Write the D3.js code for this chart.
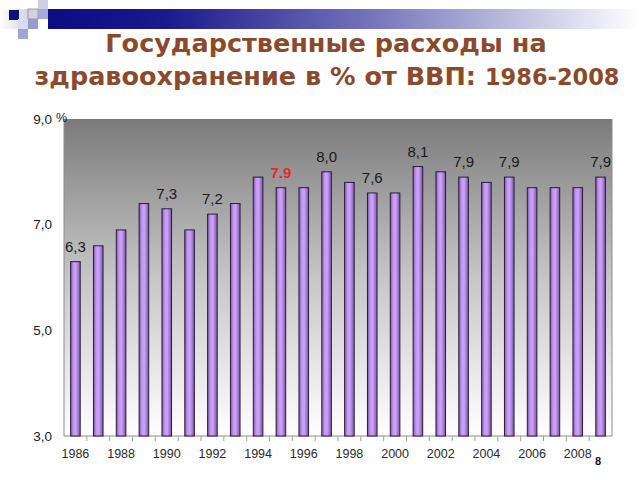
<!DOCTYPE html>
<html>
<head>
<meta charset="utf-8">
<script src="https://cdn.jsdelivr.net/npm/d3@7"></script>
<style>
  html, body { margin: 0; padding: 0; background: #fff; }
  svg { display: block; }
</style>
</head>
<body>
<svg id="chart" width="640" height="480"></svg>
<script>
// ---- DATA ----
const years = [1986,1987,1988,1989,1990,1991,1992,1993,1994,1995,1996,1997,
               1998,1999,2000,2001,2002,2003,2004,2005,2006,2007,2008,2009];
const values = [6.3,6.6,6.9,7.4,7.3,6.9,7.2,7.4,7.9,7.7,7.7,8.0,
                7.8,7.6,7.6,8.1,8.0,7.9,7.8,7.9,7.7,7.7,7.7,7.9];
const labelYears = [1986,1990,1992,1995,1997,1999,2001,2003,2005,2009];
const labelTexts = ["6,3","7,3","7,2","7.9","8,0","7,6","8,1","7,9","7,9","7,9"];
const highlightYears = [1995];
const xTickYears = [1986,1988,1990,1992,1994,1996,1998,2000,2002,2004,2006,2008];
const yTicks = [3,5,7,9];
const titleLine1 = "Государственные расходы на";
const titleLine2a = "здравоохранение в % от ВВП: ";
const titleLine2b = "1986-2008";
const unitLabel = "%";
const pageNumber = "8";

// ---- LAYOUT ----
const svg = d3.select("#chart");
const plot = {left: 64, right: 612, top: 119, bottom: 436};

const defs = svg.append("defs");
const bg = defs.append("linearGradient").attr("id","bg").attr("x1",0).attr("y1",0).attr("x2",0).attr("y2",1);
bg.append("stop").attr("offset","0%").attr("stop-color","#7b7b7b");
bg.append("stop").attr("offset","50%").attr("stop-color","#c6c6c6");
bg.append("stop").attr("offset","100%").attr("stop-color","#ffffff");

const barG = defs.append("linearGradient").attr("id","barg").attr("x1",0).attr("y1",0).attr("x2",1).attr("y2",0);
barG.append("stop").attr("offset","0%").attr("stop-color","#7e58a6");
barG.append("stop").attr("offset","30%").attr("stop-color","#c498f2");
barG.append("stop").attr("offset","55%").attr("stop-color","#cda2fb");
barG.append("stop").attr("offset","100%").attr("stop-color","#7a56a0");

const deco = defs.append("linearGradient").attr("id","deco").attr("x1",0).attr("y1",0).attr("x2",1).attr("y2",0);
deco.append("stop").attr("offset","0%").attr("stop-color","#0c0c84");
deco.append("stop").attr("offset","20%").attr("stop-color","#1a1a8c");
deco.append("stop").attr("offset","55%").attr("stop-color","#7676bc");
deco.append("stop").attr("offset","100%").attr("stop-color","#ffffff");
const decoL = defs.append("linearGradient").attr("id","decoL").attr("x1",0).attr("y1",0).attr("x2",1).attr("y2",0);
decoL.append("stop").attr("offset","0%").attr("stop-color","#ffffff");
decoL.append("stop").attr("offset","100%").attr("stop-color","#d4d4ec");

// decoration (slide template)
svg.append("rect").attr("x",48).attr("y",9).attr("width",592).attr("height",20).attr("fill","url(#deco)");
svg.append("rect").attr("x",0).attr("y",9).attr("width",28).attr("height",20).attr("fill","url(#decoL)");
const squares = [
  [9,10,"#0f0f80",null],[38,0,"#cfcfe8",null],[28,9,"#d4d4dc","#8a8a9a"],[38,9,"#a9a9d8",null],
  [18,19,"#dadaf0",null],[28,19,"#9a9ace",null],[18,29,"#a3a3d2",null]
];
svg.selectAll("rect.sq").data(squares).join("rect").attr("class","sq")
  .attr("x",d=>d[0]).attr("y",d=>d[1]).attr("width",10).attr("height",10)
  .attr("fill",d=>d[2]).attr("stroke",d=>d[3]||"none").attr("stroke-width",0.8);

// title
const tf = "'DejaVu Sans', Verdana, sans-serif";
svg.append("text").attr("x",326).attr("y",52).attr("text-anchor","middle")
  .attr("font-family",tf).attr("font-weight","bold").attr("font-size",25.5)
  .attr("fill","#8b4a2c").text(titleLine1);
const t2 = svg.append("text").attr("x",327).attr("y",85).attr("text-anchor","middle")
  .attr("font-family",tf).attr("font-weight","bold").attr("font-size",25.5).attr("fill","#8b4a2c");
t2.append("tspan").text(titleLine2a);
t2.append("tspan").attr("font-size",22.5).text(titleLine2b);

// scales
const x = d3.scaleBand().domain(years).range([plot.left, plot.right]).paddingInner(0.58).paddingOuter(0.29);
const y = d3.scaleLinear().domain([3,9]).range([plot.bottom, plot.top]);

// plot background
svg.append("rect").attr("x",plot.left).attr("y",plot.top)
  .attr("width",plot.right-plot.left).attr("height",plot.bottom-plot.top).attr("fill","url(#bg)");
svg.append("path").attr("d",`M${plot.left},${plot.top}V${plot.bottom}H${plot.right}V${plot.top}`)
  .attr("fill","none").attr("stroke","#8c8c8c").attr("stroke-width",1);

// x tick marks at band boundaries
const halfGap = (x.step() - x.bandwidth())/2;
svg.append("g").selectAll("line").data(years.slice(1)).join("line")
  .attr("x1",d=>x(d)-halfGap).attr("x2",d=>x(d)-halfGap)
  .attr("y1",plot.bottom).attr("y2",plot.bottom+5)
  .attr("stroke","#a0a0a0").attr("stroke-width",1);

// bars
svg.append("g").selectAll("rect").data(years).join("rect")
  .attr("x",d=>x(d)).attr("width",x.bandwidth())
  .attr("y",(d,i)=>y(values[i])).attr("height",(d,i)=>plot.bottom-y(values[i]))
  .attr("fill","url(#barg)").attr("stroke","#2a1c3c").attr("stroke-width",1);

// value labels
svg.append("g").selectAll("text").data(labelYears).join("text")
  .attr("x",d=>x(d)+x.bandwidth()/2)
  .attr("y",d=>y(values[years.indexOf(d)])-10)
  .attr("text-anchor","middle")
  .attr("font-family","'Liberation Sans', Arial, sans-serif")
  .attr("font-size",15)
  .attr("font-weight",d=>highlightYears.includes(d)?"bold":"normal")
  .attr("fill",d=>highlightYears.includes(d)?"#e8262b":"#1a1a1a")
  .text((d,i)=>labelTexts[i]);

// x axis labels
const xAxis = d3.axisBottom(x).tickValues(xTickYears).tickSize(0).tickPadding(13);
const gx = svg.append("g").attr("transform",`translate(0,${plot.bottom})`).call(xAxis);
gx.select(".domain").remove();
gx.selectAll("text").attr("font-family","'Liberation Sans', Arial, sans-serif")
  .attr("font-size",12.5).attr("fill","#2a2a2a");

// y axis labels
const yAxis = d3.axisLeft(y).tickValues(yTicks).tickSize(0).tickPadding(12)
  .tickFormat(d=>d3.format(".1f")(d).replace(".",","));
const gy = svg.append("g").attr("transform",`translate(${plot.left},0)`).call(yAxis);
gy.select(".domain").remove();
gy.selectAll("text").attr("font-family","'Liberation Sans', Arial, sans-serif")
  .attr("font-size",13.5).attr("fill","#1a1a1a");

// unit label
svg.append("text").attr("x",56).attr("y",122)
  .attr("font-family","'Liberation Sans', Arial, sans-serif").attr("font-size",12.5)
  .attr("fill","#1a1a1a").text(unitLabel);

// page number
svg.append("text").attr("x",598).attr("y",465).attr("text-anchor","middle")
  .attr("font-family","'Liberation Sans', Arial, sans-serif").attr("font-size",11)
  .attr("font-weight","bold").attr("fill","#111").text(pageNumber);
</script>
</body>
</html>
